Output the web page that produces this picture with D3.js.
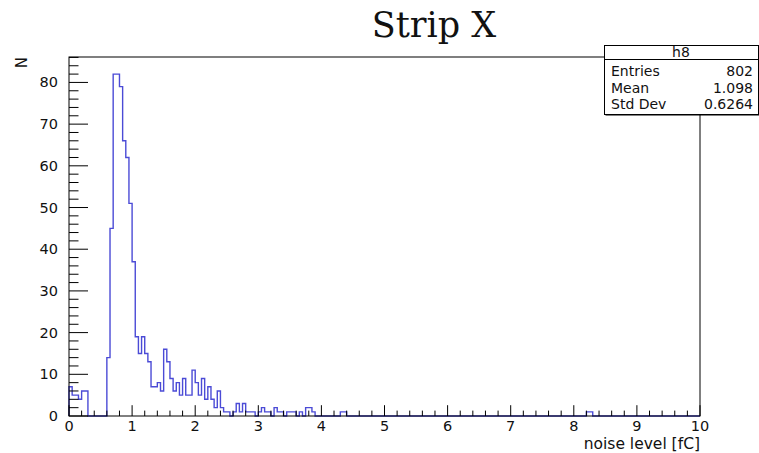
<!DOCTYPE html>
<html><head><meta charset="utf-8">
<script src="https://cdn.jsdelivr.net/npm/d3@7"></script>
<style>body{margin:0;background:#fff}</style>
</head><body><svg id="c" width="759" height="453"></svg>
<script>
// ---- data ----
const title = "Strip X";
const xTitle = "noise level [fC]";
const yTitle = "N";
const histName = "h8";
const statLabels = ["Entries", "Mean", "Std Dev"];
const statValues = ["802", "1.098", "0.6264"];
const xDomain = [0, 10];
const binWidth = 0.05;
const yMax = 86.1;
// bin contents from x = 0 in steps of 0.05 (bins 0..87)
const counts = [
  7, 5, 5, 4, 6, 6, 0, 0, 0, 0,
  0, 0, 14, 45, 82, 82, 79, 66, 62, 51,
  37, 19, 15, 19, 15, 13, 7, 7, 8, 6,
  16, 13, 9, 6, 8, 5, 9, 5, 5, 11,
  8, 5, 9, 4, 7, 4, 2, 6, 2, 1,
  1, 0, 1, 3, 1, 3, 1, 1, 1, 0,
  1, 2, 1, 1, 0, 2, 1, 1, 0, 1,
  1, 1, 0, 1, 0, 2, 2, 1, 0, 0,
  0, 0, 0, 0, 0, 0, 1, 1
];
// isolated bins far in the tail
const farBins = [164, 165];
const farCounts = [1, 1];
const xTickValues = [0, 1, 2, 3, 4, 5, 6, 7, 8, 9, 10];
const yTickValues = [0, 10, 20, 30, 40, 50, 60, 70, 80];

// ---- build ----
const nBins = Math.round((xDomain[1] - xDomain[0]) / binWidth);
const full = new Array(nBins).fill(0);
counts.forEach((c, i) => full[i] = c);
farBins.forEach((b, i) => full[b] = farCounts[i]);

const svg = d3.select("#c");
const x = d3.scaleLinear().domain(xDomain).range([69, 700]);
const y = d3.scaleLinear().domain([0, yMax]).range([416, 57]);
const sans = "DejaVu Sans, Liberation Sans, sans-serif";

// histogram outline
const pts = [[x(0), y(0)]];
full.forEach((c, i) => {
  pts.push([x(xDomain[0] + i * binWidth), y(c)]);
  pts.push([x(xDomain[0] + (i + 1) * binWidth), y(c)]);
});
pts.push([x(xDomain[1]), y(0)]);
svg.append("path")
  .attr("d", d3.line()(pts))
  .attr("fill", "none")
  .attr("stroke", "#4b4bd6")
  .attr("stroke-width", 1.4)
  .attr("stroke-linejoin", "miter");

// frame
svg.append("rect")
  .attr("x", x(0)).attr("y", y(yMax))
  .attr("width", x(10) - x(0)).attr("height", y(0) - y(yMax))
  .attr("fill", "none").attr("stroke", "#000").attr("stroke-width", 1);

// x ticks
const xMinor = d3.range(0, 10.0001, 0.2).filter(v => Math.abs(v - Math.round(v)) > 1e-6);
const gx = svg.append("g");
xTickValues.forEach(v => gx.append("line")
  .attr("x1", x(v)).attr("x2", x(v)).attr("y1", y(0)).attr("y2", y(0) - 10.8)
  .attr("stroke", "#000"));
xMinor.forEach(v => gx.append("line")
  .attr("x1", x(v)).attr("x2", x(v)).attr("y1", y(0)).attr("y2", y(0) - 5.4)
  .attr("stroke", "#000"));
xTickValues.forEach(v => gx.append("text")
  .attr("x", x(v)).attr("y", 431)
  .attr("text-anchor", "middle")
  .attr("font-family", sans).attr("font-size", 14.5).attr("fill", "#111")
  .text(d3.format("d")(v)));

// y ticks
const yMinor = d3.range(0, yMax, 2).filter(v => v % 10 !== 0);
const gy = svg.append("g");
yTickValues.forEach(v => gy.append("line")
  .attr("x1", x(0)).attr("x2", x(0) + 19).attr("y1", y(v)).attr("y2", y(v))
  .attr("stroke", "#000"));
yMinor.forEach(v => gy.append("line")
  .attr("x1", x(0)).attr("x2", x(0) + 9.5).attr("y1", y(v)).attr("y2", y(v))
  .attr("stroke", "#000"));
yTickValues.forEach(v => gy.append("text")
  .attr("x", 58).attr("y", y(v) + 5)
  .attr("text-anchor", "end")
  .attr("font-family", sans).attr("font-size", 14.5).attr("fill", "#111")
  .text(d3.format("d")(v)));

// axis titles
svg.append("text")
  .attr("x", x(10)).attr("y", 448.5)
  .attr("text-anchor", "end")
  .attr("font-family", sans).attr("font-size", 15.5).attr("fill", "#111")
  .text(xTitle);
svg.append("text")
  .attr("transform", `translate(27,${y(yMax)}) rotate(-90)`)
  .attr("text-anchor", "end")
  .attr("font-family", sans).attr("font-size", 15).attr("fill", "#111")
  .text(yTitle);

// title
svg.append("text")
  .attr("x", 434).attr("y", 37)
  .attr("text-anchor", "middle")
  .attr("font-family", "DejaVu Serif, Liberation Serif, serif")
  .attr("font-size", 35).attr("fill", "#111")
  .text(title);

// stats box
const bx = 604, by = 45, bw = 154, bh = 69;
const gs = svg.append("g");
gs.append("rect").attr("x", bx + 1.5).attr("y", by + 1.5).attr("width", bw).attr("height", bh)
  .attr("fill", "#000");
gs.append("rect").attr("x", bx + 0.5).attr("y", by + 0.5).attr("width", bw).attr("height", bh)
  .attr("fill", "#fff").attr("stroke", "#000");
gs.append("line").attr("x1", bx).attr("x2", bx + bw).attr("y1", by + 14.5).attr("y2", by + 14.5)
  .attr("stroke", "#000");
gs.append("text").attr("x", bx + bw / 2).attr("y", by + 12)
  .attr("text-anchor", "middle").attr("font-family", sans).attr("font-size", 14).attr("fill", "#111")
  .text(histName);
statLabels.forEach((l, i) => {
  const ty = by + 31 + i * 16.5;
  gs.append("text").attr("x", bx + 7).attr("y", ty)
    .attr("font-family", sans).attr("font-size", 14).attr("fill", "#111").text(l);
  gs.append("text").attr("x", bx + bw - 5).attr("y", ty).attr("text-anchor", "end")
    .attr("font-family", sans).attr("font-size", 14).attr("fill", "#111").text(statValues[i]);
});
</script>
</body></html>
